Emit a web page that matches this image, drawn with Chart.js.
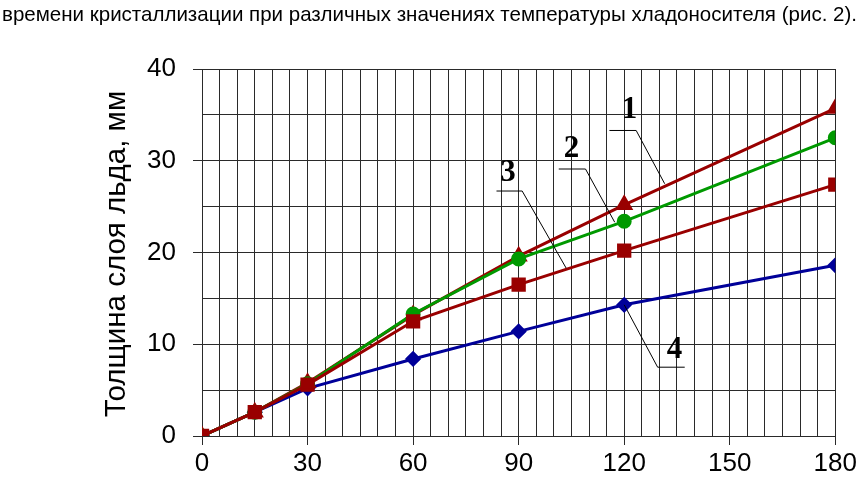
<!DOCTYPE html>
<html><head><meta charset="utf-8">
<script src="https://cdn.jsdelivr.net/npm/chart.js@4/dist/chart.umd.min.js"></script>
<style>html,body{margin:0;padding:0;background:#fff}#wrap{width:860px;height:482px}</style>
</head><body><div id="wrap"><canvas id="c" width="860" height="482"></canvas></div>
<script>
const captionText = 'времени кристаллизации при различных значениях температуры хладоносителя (рис. 2).';
const yTitle = 'Толщина слоя льда, мм';
const times = [0, 15, 30, 60, 90, 120, 180];
const series1 = [0, 2.6, 5.8, 13.2, 19.6, 25.2, 35.7];
const series2 = [0, 2.6, 5.7, 13.3, 19.3, 23.4, 32.5];
const series3 = [0, 2.6, 5.6, 12.5, 16.5, 20.2, 27.4];
const series4 = [0, 2.6, 5.2, 8.4, 11.4, 14.3, 18.6];
const seriesLabels = ['1', '2', '3', '4'];
const xMajorTicks = [0, 30, 60, 90, 120, 150, 180];
const yMajorTicks = [0, 10, 20, 30, 40];

const pts = arr => times.map((t, i) => ({x: t, y: arr[i]}));

const annotations = [
  {label: seriesLabels[0], text: [121.5, 35.5], path: [[115.8, 33.3], [123.4, 33.3], [131.5, 27.5]]},
  {label: seriesLabels[1], text: [105.0, 31.3], path: [[101.4, 29.1], [109.0, 29.1], [117.3, 23.3]]},
  {label: seriesLabels[2], text: [87.0, 28.7], path: [[83.7, 26.7], [91.0, 26.7], [103.5, 18.3]]},
  {label: seriesLabels[3], text: [134.3, 9.4], path: [[120, 14.3], [129.5, 7.5], [137.2, 7.5]]}
];

const textPlugin = {
  id: 'texts',
  afterDraw(chart) {
    const ctx = chart.ctx;
    const xs = chart.scales.x, ys = chart.scales.y;
    ctx.save();
    // caption
    ctx.font = '21px "Liberation Sans", Arial, sans-serif';
    ctx.fillStyle = '#000';
    ctx.textBaseline = 'alphabetic';
    ctx.textAlign = 'left';
    const w = ctx.measureText(captionText).width;
    ctx.save();
    ctx.translate(2, 21);
    ctx.scale(855 / w, 1);
    ctx.fillText(captionText, 0, 0);
    ctx.restore();
    // y title
    ctx.save();
    ctx.font = '29.5px "Liberation Sans", Arial, sans-serif';
    ctx.translate(117, 254);
    ctx.rotate(-Math.PI / 2);
    ctx.textAlign = 'center';
    ctx.textBaseline = 'middle';
    ctx.fillText(yTitle, 0, 0);
    ctx.restore();
    // annotations
    ctx.strokeStyle = '#000';
    ctx.lineWidth = 1;
    ctx.font = 'bold 31px "Liberation Serif", "Times New Roman", serif';
    ctx.textAlign = 'center';
    ctx.textBaseline = 'middle';
    annotations.forEach(a => {
      ctx.beginPath();
      a.path.forEach((p, i) => {
        const px = xs.getPixelForValue(p[0]), py = ys.getPixelForValue(p[1]);
        if (i === 0) ctx.moveTo(px, py); else ctx.lineTo(px, py);
      });
      ctx.stroke();
      ctx.fillText(a.label, xs.getPixelForValue(a.text[0]), ys.getPixelForValue(a.text[1]));
    });
    ctx.restore();
  }
};

const gridColor = '#2a2a2a';
new Chart(document.getElementById('c'), {
  type: 'line',
  data: {
    datasets: [
      {label: seriesLabels[0], data: pts(series1), borderColor: '#990000', backgroundColor: '#990000', pointStyle: 'triangle', pointRadius: 7.5, borderWidth: 3, order: 2},
      {label: seriesLabels[1], data: pts(series2), borderColor: '#009900', backgroundColor: '#009900', pointStyle: 'circle', pointRadius: 6, borderWidth: 3, order: 1},
      {label: seriesLabels[2], data: pts(series3), borderColor: '#990000', backgroundColor: '#990000', pointStyle: 'rect', pointRadius: 8, borderWidth: 3, order: 0},
      {label: seriesLabels[3], data: pts(series4), borderColor: '#000099', backgroundColor: '#000099', pointStyle: 'rectRot', pointRadius: 6, borderWidth: 3, order: 3}
    ]
  },
  options: {
    responsive: false,
    animation: false,
    devicePixelRatio: 1,
    layout: {padding: {left: 0, right: 24, top: 69, bottom: 0}},
    plugins: {legend: {display: false}, tooltip: {enabled: false}},
    elements: {point: {borderWidth: 1}, line: {tension: 0}},
    scales: {
      x: {
        type: 'linear', min: 0, max: 180,
        afterFit: s => { s.height = 46; },
        afterBuildTicks: s => { const t = []; for (let v = 0; v <= 180; v += 5) t.push({value: v}); s.ticks = t; },
        ticks: {
          autoSkip: false, maxRotation: 0, padding: 3, color: '#000',
          font: {size: 26, family: '"Liberation Sans", Arial, sans-serif'},
          callback: v => xMajorTicks.includes(v) ? String(v) : ''
        },
        grid: {
          color: gridColor, lineWidth: 1, tickLength: 9,
          tickColor: c => (c.tick && xMajorTicks.includes(c.tick.value)) ? gridColor : 'rgba(0,0,0,0)'
        },
        border: {color: gridColor, width: 1}
      },
      y: {
        type: 'linear', min: 0, max: 40,
        afterFit: s => { s.width = 202; },
        afterBuildTicks: s => { const t = []; for (let v = 0; v <= 40; v += 5) t.push({value: v}); s.ticks = t; },
        ticks: {
          autoSkip: false, padding: 17, color: '#000',
          font: {size: 26, family: '"Liberation Sans", Arial, sans-serif'},
          callback: v => yMajorTicks.includes(v) ? String(v) : ''
        },
        grid: {
          color: gridColor, lineWidth: 1, tickLength: 9,
          tickColor: c => (c.tick && yMajorTicks.includes(c.tick.value)) ? gridColor : 'rgba(0,0,0,0)'
        },
        border: {color: gridColor, width: 1}
      }
    }
  },
  plugins: [textPlugin]
});
</script></body></html>
